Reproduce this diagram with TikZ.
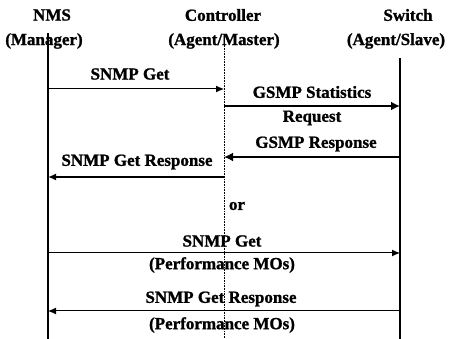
\documentclass[tikz,border=0pt]{standalone}
\usepackage{fontspec}
\setmainfont{Liberation Serif}[BoldFeatures={FakeBold=1.2}]
\usepackage{tikz}
\usetikzlibrary{arrows.meta}

\begin{document}
\begin{tikzpicture}[x=1pt,y=-1pt,
  lbl/.style={font=\fontsize{17}{19}\selectfont\bfseries, inner sep=0pt},
  msg/.style={arrows={-Latex[width=7pt, length=8pt]}, line width=1pt},
  bigmsg/.style={arrows={-Latex[width=9pt, length=9pt]}, line width=2.6pt}]
  \useasboundingbox (0,0) rectangle (456,339);

  % heads of the three parties
  \node[lbl] (nms) at (52,15) {NMS};
  \node[lbl] (nmsrole) at (44,41) {(Manager)};
  \node[lbl] (ctrl) at (223,15) {Controller};
  \node[lbl] (ctrlrole) at (224,41) {(Agent/Master)};
  \node[lbl] (sw) at (408,15) {Switch};
  \node[lbl] (swrole) at (396,41) {(Agent/Slave)};

  % life lines
  \coordinate (nmstop) at (48,33);
  \coordinate (nmsbot) at (48,339);
  \coordinate (ctrltop) at (224,35);
  \coordinate (ctrlbot) at (224,339);
  \coordinate (swtop) at (400,58);
  \coordinate (swbot) at (400,339);
  \draw[line width=1.8pt] (nmstop) -- (nmsbot);
  \draw[densely dotted, line width=0.6pt] (ctrltop) -- (ctrlbot);
  \draw[line width=1.5pt] (swtop) -- (swbot);

  % points on the life lines
  \coordinate (nmsa) at (48,89);   \coordinate (ctrla) at (224,89);
  \coordinate (ctrlb) at (224,106); \coordinate (swb) at (400,106);
  \coordinate (swc) at (400,157);  \coordinate (ctrlc) at (224,157);
  \coordinate (ctrld) at (224,177); \coordinate (nmsd) at (48,177);
  \coordinate (nmse) at (48,253);  \coordinate (swe) at (400,253);
  \coordinate (swf) at (400,311);  \coordinate (nmsf) at (48,311);

  % first way: through the controller
  \draw[msg] (nmsa) -- (ctrla);
  \node[lbl] (getone) at (130,74) {SNMP Get};
  \draw[bigmsg] (ctrlb) -- (swb);
  \node[lbl] (statreq) at (312,92) {GSMP Statistics};
  \node[lbl] (statreqb) at (312,118) {Request};
  \draw[bigmsg] (swc) -- (ctrlc);
  \node[lbl] (gsmpresp) at (316,144) {GSMP Response};
  \draw[msg, line width=1.8pt] (ctrld) -- (nmsd);
  \node[lbl] (respone) at (137,162) {SNMP Get Response};

  \node[lbl] (or) at (237,206) {or};

  % second way: straight to the switch
  \draw[msg] (nmse) -- (swe);
  \node[lbl] (gettwo) at (222,241) {SNMP Get};
  \node[lbl] (perfone) at (222,265) {(Performance MOs)};
  \draw[msg] (swf) -- (nmsf);
  \node[lbl] (resptwo) at (221,299) {SNMP Get Response};
  \node[lbl] (perftwo) at (222,325) {(Performance MOs)};
\end{tikzpicture}
\end{document}
